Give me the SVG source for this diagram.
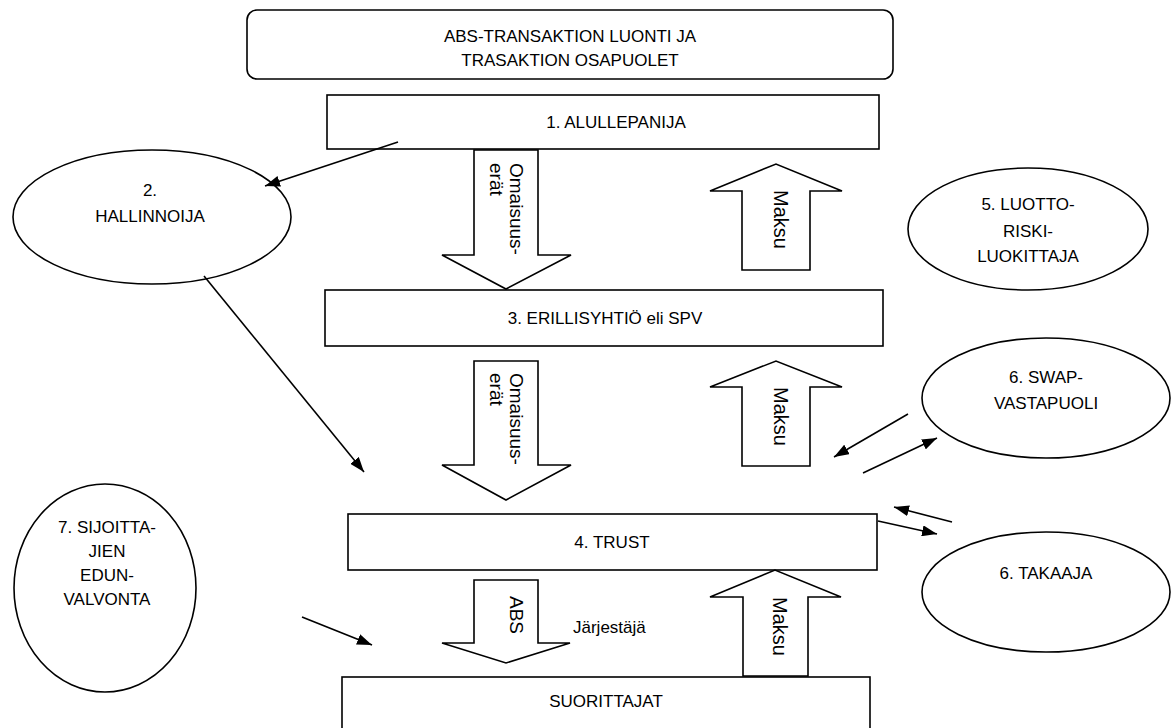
<svg xmlns="http://www.w3.org/2000/svg" width="1171" height="728" viewBox="0 0 1171 728">
<style>
text{font-family:"Liberation Sans",Arial,sans-serif;font-size:17px;fill:#000}
.c{text-anchor:middle}
.r{font-size:19px}
.m{font-size:20px}
.box{fill:#fff;stroke:#000;stroke-width:1.6}
.blk{fill:#fff;stroke:#000;stroke-width:1.6;stroke-linejoin:miter}
.ln{stroke:#000;stroke-width:1.6;fill:none;marker-end:url(#ah)}
</style>
<defs>
<marker id="ah" viewBox="0 0 10 10" refX="10" refY="5" markerWidth="15" markerHeight="11" markerUnits="userSpaceOnUse" orient="auto" preserveAspectRatio="none">
<path d="M0,0 L10,5 L0,10 z" fill="#000"/>
</marker>
</defs>
<rect width="1171" height="728" fill="#fff"/>
<g id="title">
<rect class="box" x="247" y="10" width="646" height="69" rx="10"/>
<text class="c" x="570" y="42">ABS-TRANSAKTION LUONTI JA</text>
<text class="c" x="570" y="66">TRASAKTION OSAPUOLET</text>
</g>
<g id="n1">
<rect class="box" x="327" y="95" width="552" height="54"/>
<text class="c" x="616" y="128">1. ALULLEPANIJA</text>
</g>
<g id="n2">
<ellipse class="box" cx="152" cy="217" rx="139" ry="67"/>
<text class="c" x="150" y="196">2.</text>
<text class="c" x="150" y="222">HALLINNOIJA</text>
</g>
<g id="n3">
<rect class="box" x="325" y="290" width="558" height="56"/>
<text class="c" x="605" y="324">3. ERILLISYHTIÖ eli SPV</text>
</g>
<g id="n4">
<rect class="box" x="348" y="514" width="529" height="56"/>
<text class="c" x="612" y="548">4. TRUST</text>
</g>
<g id="n5">
<ellipse class="box" cx="1028" cy="229" rx="120" ry="61"/>
<text class="c" x="1028" y="210">5. LUOTTO-</text>
<text class="c" x="1028" y="237">RISKI-</text>
<text class="c" x="1028" y="262">LUOKITTAJA</text>
</g>
<g id="n6a">
<ellipse class="box" cx="1046" cy="398" rx="124" ry="60"/>
<text class="c" x="1046" y="383">6. SWAP-</text>
<text class="c" x="1046" y="409">VASTAPUOLI</text>
</g>
<g id="n6b">
<ellipse class="box" cx="1046" cy="592" rx="124" ry="60"/>
<text class="c" x="1046" y="579">6. TAKAAJA</text>
</g>
<g id="n7">
<ellipse class="box" cx="105" cy="588" rx="91" ry="104"/>
<text class="c" x="107" y="533">7. SIJOITTA-</text>
<text class="c" x="107" y="557">JIEN</text>
<text class="c" x="107" y="581">EDUN-</text>
<text class="c" x="107" y="605">VALVONTA</text>
</g>
<g id="n8">
<rect class="box" x="342" y="677" width="528" height="70"/>
<text class="c" x="606" y="707">SUORITTAJAT</text>
</g>
<g id="flows">
<path class="blk" d="M474,150 H538 V255 H571 L506,289 L442,255 H474 Z"/>
<text class="r" transform="translate(510,163) rotate(90)">Omaisuus-</text>
<text class="r" transform="translate(490,163) rotate(90)">erät</text>
<path class="blk" d="M742,270 V191 H710 L776,164 L842,191 H810 V270 Z"/>
<text class="m" transform="translate(774,190) rotate(90)">Maksu</text>
<path class="blk" d="M474,361 H538 V465 H571 L506,500 L442,465 H474 Z"/>
<text class="r" transform="translate(510,373) rotate(90)">Omaisuus-</text>
<text class="r" transform="translate(490,373) rotate(90)">erät</text>
<path class="blk" d="M742,466 V387 H710 L776,361 L842,387 H810 V466 Z"/>
<text class="m" transform="translate(774,387) rotate(90)">Maksu</text>
<path class="blk" d="M474,580 H538 V643 H570 L506,663 L442,643 H474 Z"/>
<text class="r" transform="translate(510,596) rotate(90)">ABS</text>
<text x="573" y="633">Järjestäjä</text>
<path class="blk" d="M743,676 V597 H710 L775,570 L841,597 H808 V676 Z"/>
<text class="m" transform="translate(773,597) rotate(90)">Maksu</text>
</g>
<g id="connectors">
<line class="ln" x1="398" y1="142" x2="265" y2="186"/>
<line class="ln" x1="204" y1="276" x2="364" y2="472"/>
<line class="ln" x1="908" y1="414" x2="834" y2="457"/>
<line class="ln" x1="863" y1="473" x2="937" y2="438"/>
<line class="ln" x1="952" y1="522" x2="894" y2="507"/>
<line class="ln" x1="878" y1="521" x2="937" y2="534"/>
<line class="ln" x1="302" y1="617" x2="372" y2="645"/>
</g>
</svg>
